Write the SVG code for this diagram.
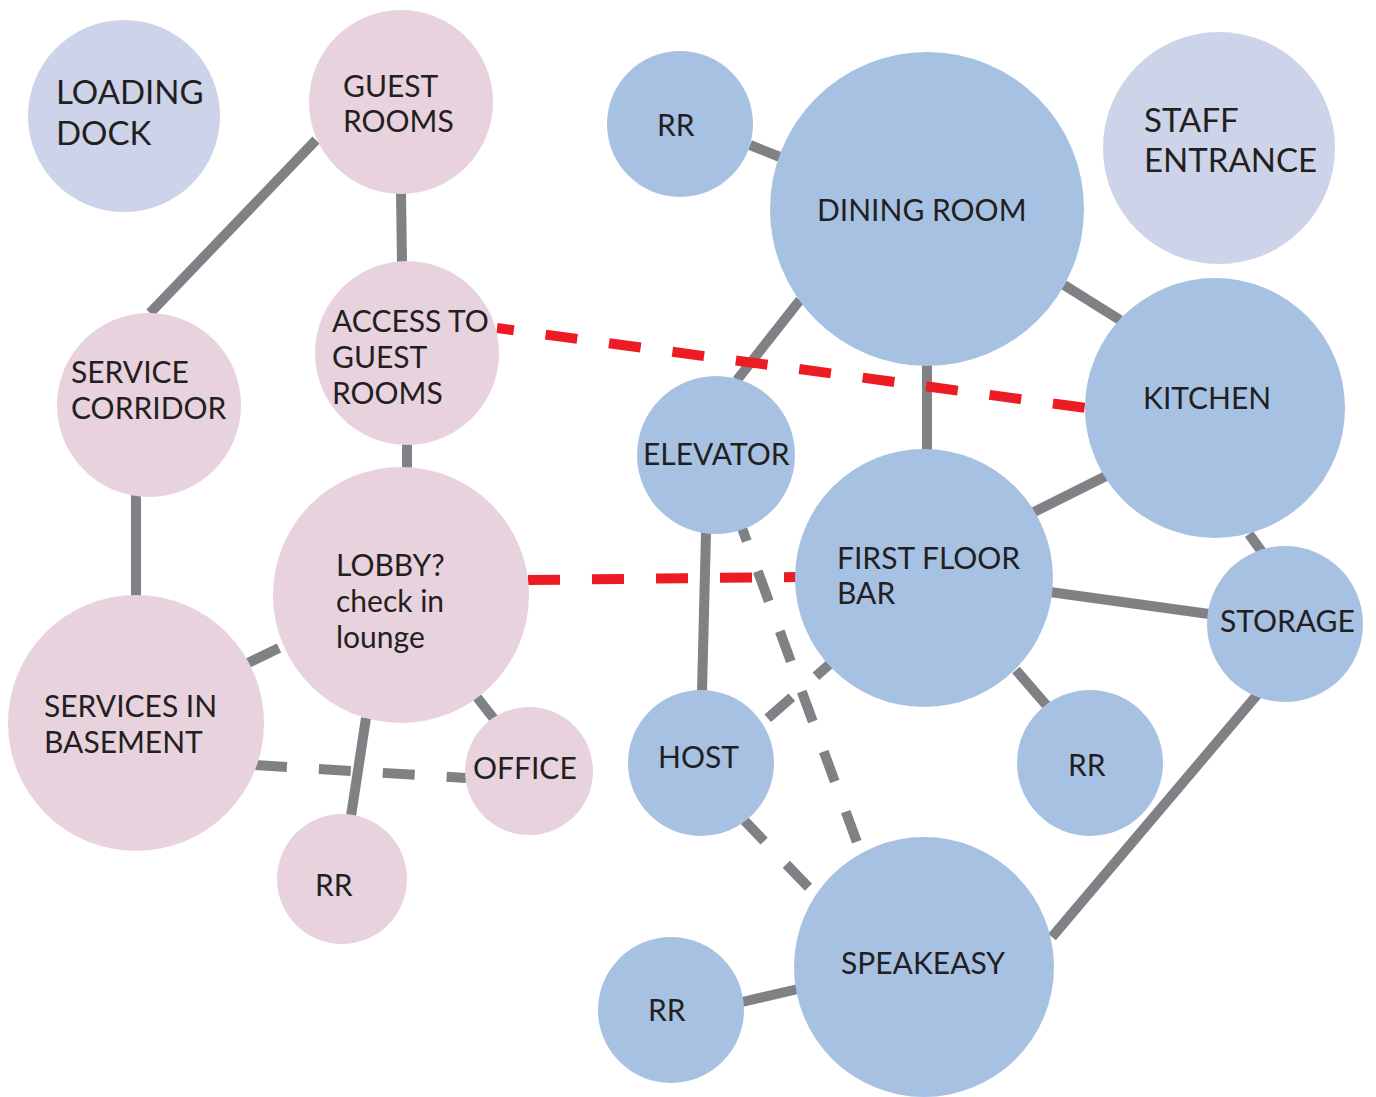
<svg xmlns="http://www.w3.org/2000/svg" width="1376" height="1097" viewBox="0 0 1376 1097">
<style>
.pink{fill:#e8d2de}
.blue{fill:#a7c1e3}
.pale{fill:#cdd3e8}
.ln{stroke:#808184;stroke-width:10;fill:none}
.dash{stroke:#808184;stroke-width:10;fill:none;stroke-dasharray:32 32}
.red{stroke:#ed1c24;stroke-width:10;fill:none;stroke-dasharray:32 32}
text{font-family:Lato,"Noto Sans","Liberation Sans",sans-serif;font-size:30px;fill:#231f20}
.big{font-size:33px}
</style>
<rect width="1376" height="1097" fill="#ffffff"/>
<g id="connectors">
<line class="ln" x1="316" y1="140" x2="150" y2="313"/>
<line class="ln" x1="401" y1="192" x2="402" y2="263"/>
<line class="ln" x1="407" y1="444" x2="407" y2="469"/>
<line class="ln" x1="136" y1="495" x2="136" y2="597"/>
<line class="ln" x1="248" y1="663" x2="279" y2="648"/>
<line class="ln" x1="366" y1="718" x2="351" y2="816"/>
<line class="ln" x1="476" y1="696" x2="494" y2="719"/>
<line class="dash" x1="255" y1="765" x2="466" y2="778"/>
<line class="ln" x1="750" y1="145" x2="780" y2="157"/>
<line class="ln" x1="800" y1="300" x2="737" y2="380"/>
<line class="ln" x1="927" y1="364" x2="927" y2="450"/>
<line class="ln" x1="1064" y1="285" x2="1120" y2="320"/>
<line class="ln" x1="1034" y1="512" x2="1106" y2="476"/>
<line class="ln" x1="1249" y1="534" x2="1262" y2="552"/>
<line class="ln" x1="1050" y1="592" x2="1209" y2="614"/>
<line class="ln" x1="706" y1="532" x2="702" y2="692"/>
<line class="dash" x1="742" y1="528" x2="862" y2="856" stroke-dasharray="34 34" stroke-dashoffset="18"/>
<line class="dash" x1="831" y1="663" x2="760" y2="725" stroke-dasharray="26 26" stroke-dashoffset="12"/>
<line class="ln" x1="1016" y1="670" x2="1048" y2="707"/>
<line class="dash" x1="742" y1="818" x2="812" y2="891" stroke-dasharray="34 34"/>
<line class="ln" x1="1257" y1="695" x2="1052" y2="937"/>
<line class="ln" x1="742" y1="1002" x2="798" y2="989"/>
<line class="red" x1="528" y1="580" x2="796" y2="577"/>
<line class="red" x1="497" y1="328" x2="1086" y2="408" stroke-dashoffset="15"/>
</g>
<g id="loading-dock"><circle class="pale" cx="124" cy="116" r="96"/><text class="big" x="56" y="104">LOADING</text><text class="big" x="56" y="145">DOCK</text></g>
<g id="guest-rooms"><circle class="pink" cx="401" cy="102" r="92"/><text x="343" y="97">GUEST</text><text x="343" y="132">ROOMS</text></g>
<g id="access-guest-rooms"><circle class="pink" cx="407" cy="353" r="92"/><text x="332" y="332">ACCESS TO</text><text x="332" y="368">GUEST</text><text x="332" y="404">ROOMS</text></g>
<g id="service-corridor"><circle class="pink" cx="149" cy="405" r="92"/><text x="71" y="383">SERVICE</text><text x="71" y="419">CORRIDOR</text></g>
<g id="lobby"><circle class="pink" cx="401" cy="595" r="128"/><text x="336" y="576">LOBBY?</text><text x="336" y="612">check in</text><text x="336" y="648">lounge</text></g>
<g id="services-basement"><circle class="pink" cx="136" cy="723" r="128"/><text x="44" y="717">SERVICES IN</text><text x="44" y="753">BASEMENT</text></g>
<g id="office"><circle class="pink" cx="529" cy="771" r="64"/><text x="473" y="779">OFFICE</text></g>
<g id="rr-pink"><circle class="pink" cx="342" cy="879" r="65"/><text x="315" y="896">RR</text></g>
<g id="rr-top"><circle class="blue" cx="680" cy="124" r="73"/><text x="657" y="136">RR</text></g>
<g id="dining-room"><circle class="blue" cx="927" cy="209" r="157"/><text x="817" y="221">DINING ROOM</text></g>
<g id="staff-entrance"><circle class="pale" cx="1219" cy="148" r="116"/><text class="big" x="1144" y="132">STAFF</text><text class="big" x="1144" y="172">ENTRANCE</text></g>
<g id="kitchen"><circle class="blue" cx="1215" cy="408" r="130"/><text x="1143" y="409">KITCHEN</text></g>
<g id="elevator"><circle class="blue" cx="716" cy="455" r="79"/><text x="643" y="465">ELEVATOR</text></g>
<g id="first-floor-bar"><circle class="blue" cx="924" cy="578" r="129"/><text x="837" y="569">FIRST FLOOR</text><text x="837" y="604">BAR</text></g>
<g id="storage"><circle class="blue" cx="1285" cy="624" r="78"/><text x="1220" y="632">STORAGE</text></g>
<g id="host"><circle class="blue" cx="701" cy="763" r="73"/><text x="658" y="768">HOST</text></g>
<g id="rr-right"><circle class="blue" cx="1090" cy="763" r="73"/><text x="1068" y="776">RR</text></g>
<g id="speakeasy"><circle class="blue" cx="924" cy="967" r="130"/><text x="841" y="974">SPEAKEASY</text></g>
<g id="rr-bottom"><circle class="blue" cx="671" cy="1010" r="73"/><text x="648" y="1021">RR</text></g>
</svg>
